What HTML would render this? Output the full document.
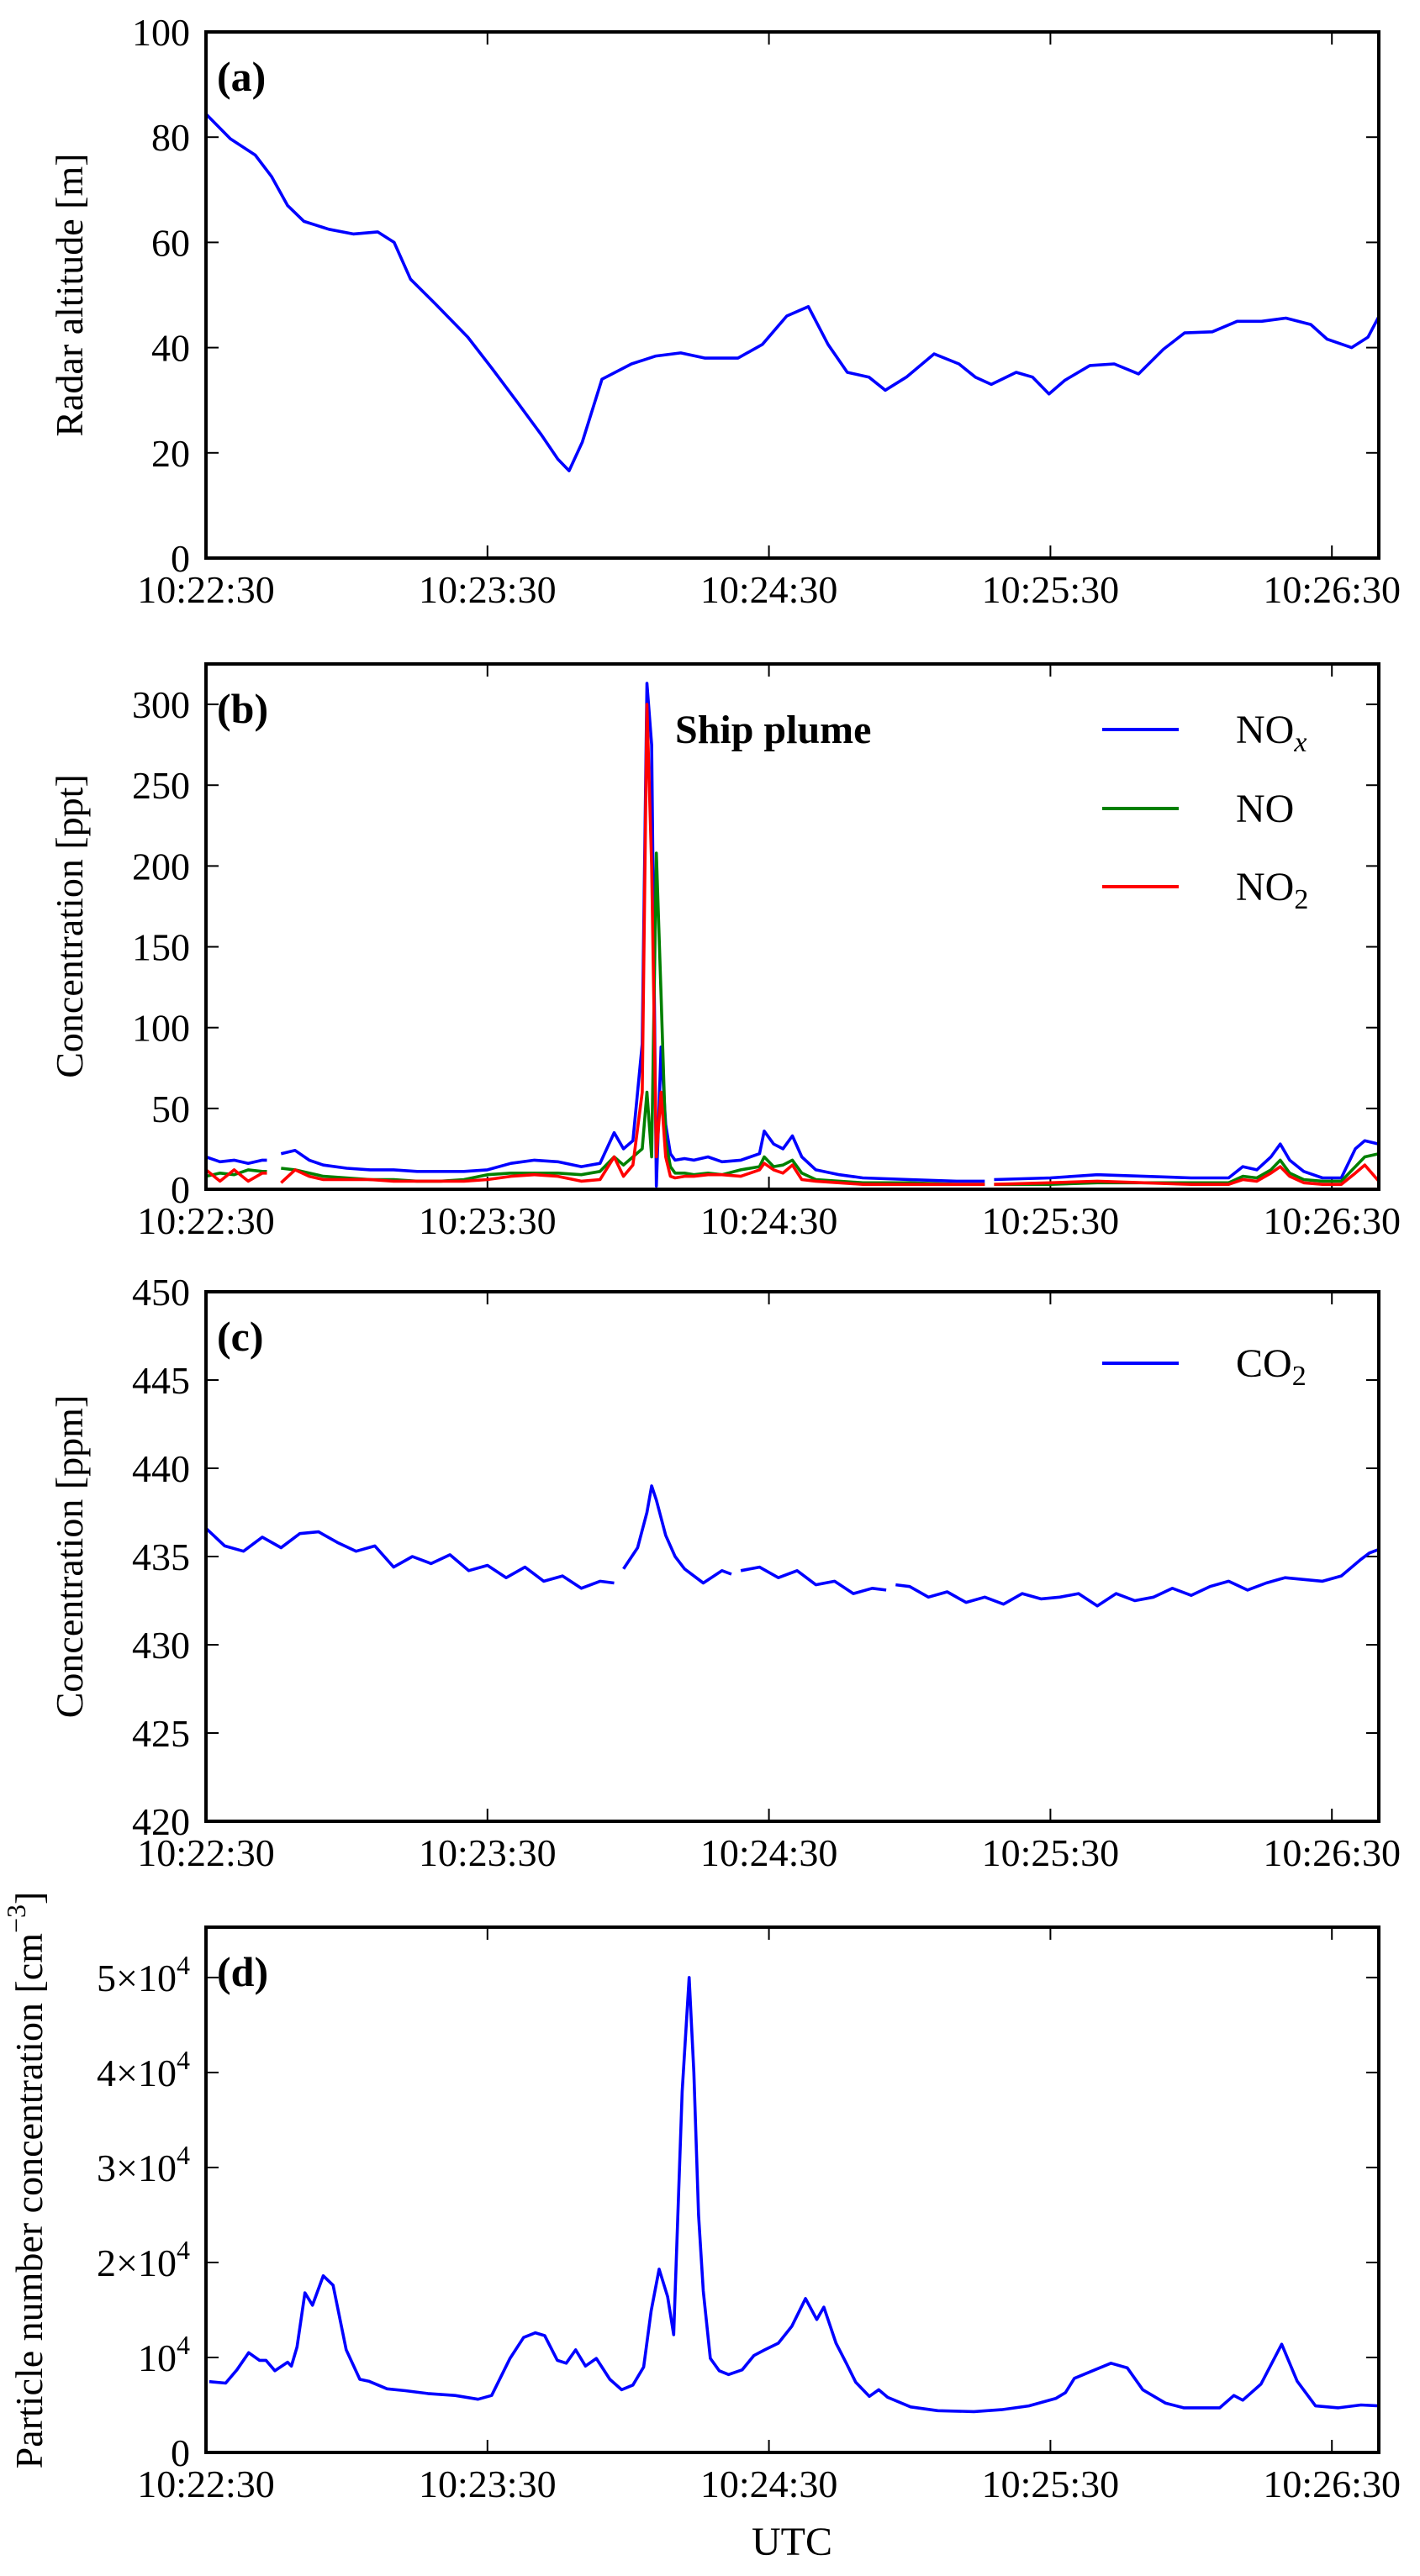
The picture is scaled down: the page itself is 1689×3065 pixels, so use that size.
<!DOCTYPE html>
<html><head><meta charset="utf-8">
<style>
html,body{margin:0;padding:0;background:#fff;}
svg{display:block;}
svg text{font-family:"Liberation Serif","Times New Roman","DejaVu Serif",serif;fill:#000;}
</style></head>
<body>
<svg id="fig" width="1689" height="3065" viewBox="0 0 1689 3065" xmlns="http://www.w3.org/2000/svg" font-family="Liberation Serif, DejaVu Serif, serif"></svg>
<script>
// ---- Data (seconds after 10:22:30) ----
const xTickLabels = ["10:22:30","10:23:30","10:24:30","10:25:30","10:26:30"];
const xTickSecs = [0,60,120,180,240];

const tA = [0,5.2,10.5,14,17.4,20.9,26.2,31.4,36.6,40.1,43.6,48.8,55.8,61,66.3,71.5,75,77.4,80.2,84.4,90.7,95.9,101.2,106.4,113.4,118.6,123.8,128.4,132.6,136.7,141.3,144.8,149.3,155.2,160.5,164,167.4,172.7,176.2,179.7,183.1,188.4,193.6,198.8,204.1,208.6,214.5,219.8,225,230.2,235.5,239,244.2,247.7,250];
const altA = [84.4,79.7,76.6,72.5,67,64,62.5,61.6,62,60,53,48.4,42,36,29.7,23.4,18.8,16.6,22,34,36.9,38.4,39,38,38,40.6,46,47.8,40.6,35.3,34.4,31.9,34.4,38.8,36.9,34.4,33,35.3,34.4,31.2,33.8,36.6,36.9,35,39.7,42.8,43,45,45,45.6,44.4,41.6,40,42,45.9];
const aTicks = [0,20,40,60,80,100];

const tB = [0,3,6,9,12,13,14,16,19,22,25,30,35,40,45,50,55,60,65,70,75,80,84,87,89,91,93,94,95,96,97,98,99,100,102,104,107,110,114,118,119,121,123,125,127,130,135,140,150,160,166,167,168,180,190,200,210,218,221,224,227,229,231,234,238,242,245,247,250];
const noxB = [20,17,18,16,18,18,null,22,24,18,15,13,12,12,11,11,11,12,16,18,17,14,16,35,25,30,90,313,275,2,88,40,22,18,19,18,20,17,18,22,36,28,25,33,20,12,9,7,6,5,5,null,6,7,9,8,7,7,14,12,20,28,18,11,7,7,25,30,28];
const noB = [8,10,9,12,11,11,null,13,12,10,8,7,6,6,5,5,6,9,10,10,10,9,11,20,15,20,25,60,20,208,120,30,14,10,10,9,10,9,12,14,20,14,15,18,10,6,5,4,4,3,3,null,3,3,4,4,4,4,8,7,12,18,10,6,5,5,14,20,22];
const no2B = [12,5,12,5,10,10,null,4,12,8,6,6,6,5,5,5,5,6,8,9,8,5,6,20,8,15,60,300,200,20,60,20,8,7,8,8,9,9,8,12,16,12,10,15,6,5,4,3,3,3,3,null,3,4,5,4,3,3,6,5,10,14,8,4,3,3,10,15,5];
const bTicks = [0,50,100,150,200,250,300];

const tC = [0,4,8,12,16,20,24,28,32,36,40,44,48,52,56,60,64,68,72,76,80,84,87,88,89,92,94,95,96,98,100,102,106,110,112,113,114,118,122,126,130,134,138,142,145,146,147,150,154,158,162,166,170,174,178,182,186,190,194,198,202,206,210,214,218,222,226,230,234,238,242,246,248,250];
const co2C = [436.6,435.6,435.3,436.1,435.5,436.3,436.4,435.8,435.3,435.6,434.4,435.0,434.6,435.1,434.2,434.5,433.8,434.4,433.6,433.9,433.2,433.6,433.5,null,434.3,435.5,437.5,439.0,438.2,436.2,435.0,434.3,433.5,434.2,434.0,null,434.2,434.4,433.8,434.2,433.4,433.6,432.9,433.2,433.1,null,433.4,433.3,432.7,433.0,432.4,432.7,432.3,432.9,432.6,432.7,432.9,432.2,432.9,432.5,432.7,433.2,432.8,433.3,433.6,433.1,433.5,433.8,433.7,433.6,433.9,434.8,435.2,435.4];
const cTicks = [420,425,430,435,440,445,450];

const tD = [0.7,4.2,6.6,9.1,11.4,12.8,14.7,17.4,18.2,19.4,21.1,22.7,25,27.1,29.9,32.8,34.7,38.6,42.5,47.3,53.1,58,60.9,64.8,67.7,70.2,72.2,74.9,76.8,78.8,80.9,83.2,86.1,88.6,91,93.3,94.9,96.6,98.4,99.7,101.5,103,104,105,106,107.5,109.4,111.4,114.3,116.8,119.1,122,124.9,127.8,130.2,131.7,134.3,136.6,138.5,141.4,143.4,145.3,150.2,156,163.7,169.6,175.4,181.2,183.2,185.1,189,192.9,196.4,199.7,204.5,208.4,216.1,219.1,221,224.9,229.3,232.6,236.5,241.4,246.2,251];
const pnD = [0.746,0.73,0.87,1.05,0.97,0.97,0.86,0.95,0.91,1.11,1.68,1.55,1.86,1.76,1.08,0.77,0.75,0.67,0.65,0.62,0.60,0.56,0.60,0.99,1.21,1.26,1.23,0.97,0.94,1.08,0.91,0.99,0.77,0.66,0.71,0.90,1.49,1.93,1.64,1.24,3.8,5.0,4.0,2.5,1.7,0.99,0.86,0.82,0.87,1.02,1.08,1.15,1.33,1.62,1.40,1.53,1.15,0.93,0.74,0.59,0.66,0.58,0.48,0.44,0.43,0.45,0.49,0.57,0.63,0.78,0.86,0.94,0.89,0.66,0.52,0.47,0.47,0.60,0.55,0.72,1.14,0.75,0.49,0.47,0.50,0.49];
const dTicks = [0,1,2,3,4,5];

// ---- Rendering ----
const NS = "http://www.w3.org/2000/svg";
const svg = document.getElementById('fig');
const FONT = '"Liberation Serif","DejaVu Serif",serif';
const X0 = 245, X1 = 1640, TMAX = 250;
function xs(t){ return X0 + (Math.min(t,TMAX)/TMAX)*(X1-X0); }
function mk(tag, attrs, parent){
  const e = document.createElementNS(NS, tag);
  for (const k in attrs) e.setAttribute(k, attrs[k]);
  if (tag==='text') e.style.fontFamily = FONT;
  (parent||svg).appendChild(e);
  return e;
}
function makeYScale(top,bot,lo,hi){ return v => bot - (v-lo)/(hi-lo)*(bot-top); }

function drawSeries(g, ts, vs, ys, color, name){
  let d = "", pen = false;
  for (let i=0;i<ts.length;i++){
    if (vs[i]===null){ pen=false; continue; }
    d += (pen?"L":"M") + xs(ts[i]).toFixed(1) + " " + ys(vs[i]).toFixed(1) + " ";
    pen = true;
  }
  const p = mk('path',{d:d, fill:'none', stroke:color, 'stroke-width':3.6, 'stroke-linejoin':'round'}, g);
  
  
}

function panel(id, top, bot, lo, hi, yticks, ylabelFn, letter){
  const g = mk('g',{});
  
  
  const ys = makeYScale(top,bot,lo,hi);
  xTickSecs.forEach((s,i)=>{
    const x = xs(s);
    mk('line',{x1:x,x2:x,y1:bot,y2:bot-15,stroke:'#000','stroke-width':2},g);
    mk('line',{x1:x,x2:x,y1:top,y2:top+15,stroke:'#000','stroke-width':2},g);
    const tx = mk('text',{x:x,y:bot+53,'font-size':46,'text-anchor':'middle'},g);
    tx.textContent = xTickLabels[i];
    
    
  });
  yticks.forEach(v=>{
    const y = ys(v);
    mk('line',{x1:X0,x2:X0+15,y1:y,y2:y,stroke:'#000','stroke-width':2},g);
    mk('line',{x1:X1,x2:X1-15,y1:y,y2:y,stroke:'#000','stroke-width':2},g);
    const tx = mk('text',{x:X0-19,y:y+16,'font-size':46,'text-anchor':'end'},g);
    ylabelFn(tx, v);
    
    
  });
  const lt = mk('text',{x:258,y:top+70,'font-size':50,'font-weight':'bold'},g);
  lt.textContent = letter;
  
  
  return {g, ys};
}
function plainLabel(tx,v){ tx.textContent = String(v); }
function yTitle(text, cx, cy, name){
  const t = mk('text',{x:0,y:0,'font-size':46,'text-anchor':'middle',transform:`translate(${cx},${cy}) rotate(-90)`});
  t.textContent = text;
  
  
  return t;
}
function frame(g, top, bot){
  const r = mk('rect',{x:X0,y:top,width:X1-X0,height:bot-top,fill:'none',stroke:'#000','stroke-width':4},g);
  
  
}

const A = panel('panel-a-radar-altitude', 38, 664, 0, 100, aTicks, plainLabel, '(a)');
drawSeries(A.g, tA, altA, A.ys, '#0000ff', 'altitude-line');
frame(A.g, 38, 664);
yTitle('Radar altitude [m]', 98, 351, 'y-axis-title-a');

const B = panel('panel-b-nox', 790, 1415, 0, 325, bTicks, plainLabel, '(b)');
drawSeries(B.g, tB, noxB, B.ys, '#0000ff', 'nox-line');
drawSeries(B.g, tB, noB, B.ys, '#008000', 'no-line');
drawSeries(B.g, tB, no2B, B.ys, '#ff0000', 'no2-line');
frame(B.g, 790, 1415);
yTitle('Concentration [ppt]', 98, 1102, 'y-axis-title-b');
const sp = mk('text',{x:803,y:884,'font-size':48,'font-weight':'bold'});
sp.textContent = 'Ship plume';



function legendEntry(y, color, html, name){
  const g = mk('g',{});
  
  
  mk('line',{x1:1311,x2:1402,y1:y,y2:y,stroke:color,'stroke-width':4},g);
  const t = mk('text',{x:1470,y:y+16,'font-size':48},g);
  t.innerHTML = html;
}
legendEntry(868, '#0000ff', 'NO<tspan font-size="34" dy="10" font-style="italic">x</tspan>', 'legend-entry-nox');
legendEntry(962, '#008000', 'NO', 'legend-entry-no');
legendEntry(1055, '#ff0000', 'NO<tspan font-size="34" dy="10">2</tspan>', 'legend-entry-no2');

const C = panel('panel-c-co2', 1537, 2167, 420, 450, cTicks, plainLabel, '(c)');
drawSeries(C.g, tC, co2C, C.ys, '#0000ff', 'co2-line');
frame(C.g, 1537, 2167);
yTitle('Concentration [ppm]', 98, 1852, 'y-axis-title-c');
legendEntry(1622, '#0000ff', 'CO<tspan font-size="34" dy="10">2</tspan>', 'legend-entry-co2');

function sciLabel(tx, v){
  if (v===0){ tx.textContent='0'; return; }
  if (v===1){ tx.innerHTML = '10<tspan font-size="32" dy="-20">4</tspan>'; return; }
  tx.innerHTML = v + '×10<tspan font-size="32" dy="-20">4</tspan>';
}
const D = panel('panel-d-particles', 2293, 2918, 0, 5.53, dTicks, sciLabel, '(d)');
drawSeries(D.g, tD, pnD, D.ys, '#0000ff', 'particle-line');
frame(D.g, 2293, 2918);
const dt = mk('text',{x:0,y:0,'font-size':46,'text-anchor':'middle',transform:'translate(50,2594) rotate(-90)'});
dt.innerHTML = 'Particle number concentration [cm<tspan font-size="32" dy="-20">−3</tspan><tspan dy="20">]</tspan>';


const xt = mk('text',{x:942,y:3040,'font-size':48,'text-anchor':'middle'});
xt.textContent = 'UTC';


</script>
</body></html>
